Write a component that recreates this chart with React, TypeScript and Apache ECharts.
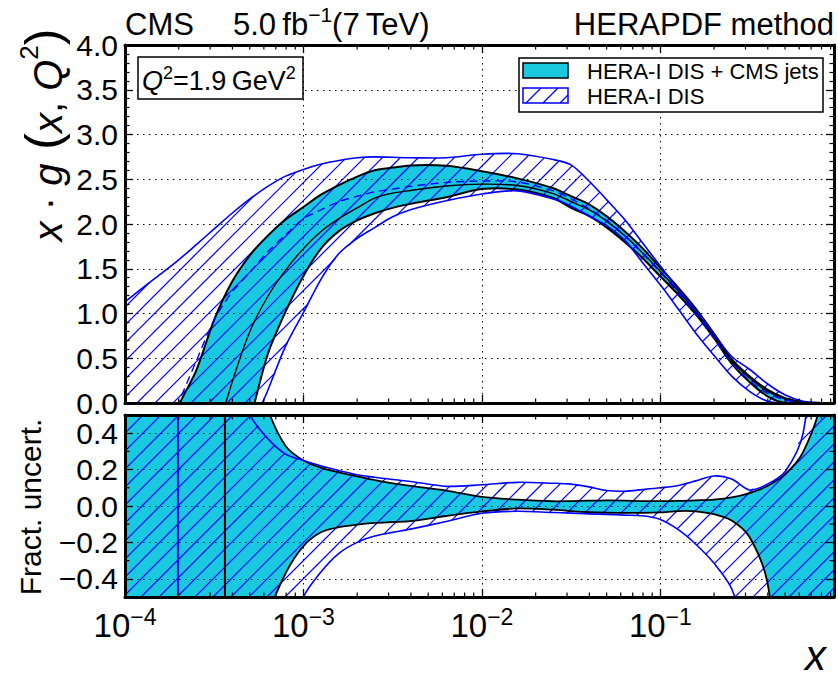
import React, { useEffect, useRef } from 'react';
import * as echarts from 'echarts';

const FONT = 'Liberation Sans, Arial, Helvetica, sans-serif';
const CYAN = '#1ac9e0';
const BLUE = '#0000ff';

// x grid (log-spaced)
const X = [1e-4, 1.26e-4, 1.58e-4, 2e-4, 2.51e-4, 3.16e-4, 3.98e-4, 5.01e-4, 6.31e-4, 7.94e-4, 1e-3, 1.26e-3, 1.58e-3, 2e-3, 2.51e-3, 3.16e-3, 3.98e-3, 6.31e-3, 1e-2, 1.58e-2, 2.51e-2, 3.16e-2, 3.98e-2, 5.01e-2, 6.31e-2, 7.94e-2, 0.1, 0.126, 0.158, 0.2, 0.251, 0.316, 0.398, 0.501, 0.631, 0.794, 0.94];

// top panel: x*g(x,Q2)
const COMB_CENTRAL = [null, null, null, null, null, -0.45, 0.23, 0.8, 1.19, 1.485, 1.725, 1.92, 2.06, 2.18, 2.29, 2.345, 2.375, 2.425, 2.445, 2.43, 2.34, 2.25, 2.16, 2.03, 1.87, 1.68, 1.47, 1.25, 1.02, 0.75, 0.47, 0.28, 0.13, 0.045, 0.008, 0, 0];
const COMB_UPPER = [-1.5, -1.1, -0.6, -0.03, 0.365, 0.93, 1.355, 1.65, 1.87, 2.05, 2.19, 2.33, 2.435, 2.53, 2.6, 2.63, 2.655, 2.65, 2.59, 2.51, 2.4, 2.31, 2.22, 2.085, 1.92, 1.73, 1.51, 1.29, 1.055, 0.775, 0.49, 0.3, 0.15, 0.055, 0.012, 0.001, 0];
const COMB_LOWER = [-3, -3, -3, -2.5, -2, -1.4, -0.9, -0.2, 0.545, 1.02, 1.42, 1.73, 1.92, 2.04, 2.12, 2.18, 2.225, 2.3, 2.39, 2.385, 2.29, 2.18, 2.09, 1.96, 1.8, 1.62, 1.415, 1.21, 0.99, 0.725, 0.44, 0.235, 0.075, 0, 0, 0, 0];
const HERA_CENTRAL = [null, null, -0.45, 0.01, 0.47, 0.93, 1.24, 1.46, 1.69, 1.88, 2.06, 2.16, 2.25, 2.31, 2.36, 2.39, 2.42, 2.465, 2.48, 2.47, 2.37, 2.28, 2.17, 2.04, 1.87, 1.67, 1.46, 1.23, 0.99, 0.72, 0.45, 0.25, 0.11, 0.035, 0.005, 0, 0];
const HERA_UPPER = [1.13, 1.29, 1.44, 1.6, 1.77, 1.945, 2.12, 2.28, 2.42, 2.535, 2.61, 2.67, 2.71, 2.74, 2.75, 2.745, 2.74, 2.74, 2.78, 2.785, 2.72, 2.66, 2.48, 2.27, 2.05, 1.79, 1.53, 1.27, 1.035, 0.77, 0.52, 0.377, 0.215, 0.09, 0.02, 0, 0];
const HERA_LOWER = [-3, -3, -3, -3, -2.5, -2, -1.5, -0.35, 0.14, 0.636, 1.01, 1.39, 1.67, 1.84, 1.96, 2.08, 2.16, 2.26, 2.335, 2.37, 2.28, 2.2, 2.09, 1.98, 1.82, 1.57, 1.32, 1.05, 0.78, 0.53, 0.3, 0.13, 0.02, 0, 0, 0, 0];

// bottom panel: fractional uncertainty
const COMB_FRAC_UP = [1.5, 1.5, 1.5, 1.5, 1.5, 1.5, 1.2, 0.85, 0.53, 0.33, 0.25, 0.21, 0.185, 0.163, 0.142, 0.124, 0.11, 0.085, 0.05, 0.035, 0.026, 0.027, 0.029, 0.031, 0.03, 0.027, 0.027, 0.028, 0.031, 0.035, 0.047, 0.071, 0.11, 0.175, 0.296, 0.58, 1.5];
const COMB_FRAC_LOW = [-1.5, -1.5, -1.5, -1.5, -1.5, -1.5, -1.5, -1.5, -0.62, -0.37, -0.22, -0.143, -0.116, -0.102, -0.093, -0.088, -0.083, -0.055, -0.03, -0.013, -0.02, -0.028, -0.034, -0.037, -0.038, -0.038, -0.035, -0.028, -0.029, -0.045, -0.08, -0.17, -0.42, -1.2, -1.5, -1.5, -1.5];
const HERA_FRAC_UP = [1.5, 1.5, 1.5, 1.5, 1.5, 1.5, 0.75, 0.5, 0.37, 0.285, 0.25, 0.22, 0.195, 0.172, 0.158, 0.146, 0.135, 0.108, 0.117, 0.13, 0.125, 0.12, 0.105, 0.085, 0.081, 0.09, 0.1, 0.113, 0.138, 0.165, 0.148, 0.088, 0.12, 0.19, 0.4, 1.2, 1.5];
const HERA_FRAC_LOW = [-1.5, -1.5, -1.5, -1.5, -1.5, -1.5, -1.5, -1.5, -1.5, -0.8, -0.5, -0.36, -0.26, -0.2, -0.165, -0.145, -0.127, -0.085, -0.04, -0.029, -0.036, -0.039, -0.043, -0.046, -0.05, -0.054, -0.074, -0.13, -0.21, -0.315, -0.455, -0.8, -1.5, -1.5, -1.5, -1.5, -1.5];

// x where central values cross zero (fraction undefined)
const HERA_ZERO_X = [1.98e-4];
const COMB_ZERO_X = [3.63e-4];

const X_MIN = 1e-4;
const X_MAX = 0.94;
const Y_TOP = [0, 4];
const Y_BOT = [-0.5, 0.5];
const MINOR_Y_BOT = [-0.3, -0.1, 0.1, 0.3];

const MINOR_X: number[] = [];
for (let d = -4; d <= -1; d++) for (let k = 2; k <= 9; k++) { const v = k * Math.pow(10, d); if (v < X_MAX) MINOR_X.push(v); }

const SMOOTH = 0.3;
const HATCH_STEP = 18;

// "/" hatch segments inside a pixel polygon (even-odd rule)
function hatchSegs(poly: number[][], step: number) {
  let mn = Infinity, mx = -Infinity;
  for (const p of poly) { const s = p[0] + p[1]; if (s < mn) mn = s; if (s > mx) mx = s; }
  const out: number[][] = [];
  for (let c = Math.ceil(mn / step) * step; c <= mx; c += step) {
    const xs: number[] = [];
    for (let i = 0; i < poly.length; i++) {
      const a = poly[i], b = poly[(i + 1) % poly.length];
      const fa = a[0] + a[1] - c, fb = b[0] + b[1] - c;
      if ((fa < 0) !== (fb < 0)) { const t = fa / (fa - fb); xs.push(a[0] + t * (b[0] - a[0])); }
    }
    xs.sort((p, q) => p - q);
    for (let k = 0; k + 1 < xs.length; k += 2) out.push([xs[k], c - xs[k], xs[k + 1], c - xs[k + 1]]);
  }
  return out;
}

function bandPoints(api: any, up: number[], lo: number[]) {
  const pts: number[][] = [];
  for (let i = 0; i < X.length; i++) pts.push(api.coord([X[i], up[i]]));
  for (let i = X.length - 1; i >= 0; i--) pts.push(api.coord([X[i], lo[i]]));
  return pts;
}

function band(gi: number, up: number[], lo: number[], fill: string, z: number) {
  return {
    type: 'custom', xAxisIndex: gi * 2, yAxisIndex: gi * 2, z, clip: true, silent: true,
    data: [[1e-3, 0]],
    renderItem: (_p: any, api: any) => ({ type: 'polygon', shape: { points: bandPoints(api, up, lo), smooth: SMOOTH }, style: { fill, stroke: 'none' } }),
  };
}

function hatchBand(gi: number, up: number[], lo: number[], z: number) {
  return {
    type: 'custom', xAxisIndex: gi * 2, yAxisIndex: gi * 2, z, clip: true, silent: true,
    data: [[1e-3, 0]],
    renderItem: (_p: any, api: any) => ({
      type: 'group',
      children: hatchSegs(bandPoints(api, up, lo), HATCH_STEP).map((s) => ({
        type: 'line', shape: { x1: s[0], y1: s[1], x2: s[2], y2: s[3] }, style: { stroke: BLUE, lineWidth: 1.2 },
      })),
    }),
  };
}

function curve(gi: number, ys: (number | null)[], color: string, width: number, dash: any, z: number) {
  return {
    type: 'custom', xAxisIndex: gi * 2, yAxisIndex: gi * 2, z, clip: true, silent: true,
    data: [[1e-3, 0]],
    renderItem: (_p: any, api: any) => {
      const pts: number[][] = [];
      for (let i = 0; i < X.length; i++) if (ys[i] !== null) pts.push(api.coord([X[i], ys[i]]));
      return { type: 'polyline', shape: { points: pts, smooth: SMOOTH }, style: { stroke: color, lineWidth: width, fill: 'none', lineDash: dash } };
    },
  };
}

function vline(xs: number[], color: string, z: number) {
  return {
    type: 'custom', xAxisIndex: 2, yAxisIndex: 2, z, clip: true, silent: true,
    data: xs.map((x) => [x, 0]),
    renderItem: (_p: any, api: any) => {
      const a = api.coord([api.value(0), Y_BOT[0]]);
      const b = api.coord([api.value(0), Y_BOT[1]]);
      return { type: 'line', shape: { x1: a[0], y1: a[1], x2: b[0], y2: b[1] }, style: { stroke: color, lineWidth: 2 } };
    },
  };
}

function minorTicks(gi: number, yr: number[]) {
  return {
    type: 'custom', xAxisIndex: gi * 2, yAxisIndex: gi * 2, z: 30, clip: false, silent: true,
    data: MINOR_X.map((x) => [x, yr[0]]),
    renderItem: (_p: any, api: any) => {
      const a = api.coord([api.value(0), yr[0]]);
      const b = api.coord([api.value(0), yr[1]]);
      const s = { stroke: '#000', lineWidth: 1.2 };
      return {
        type: 'group', children: [
          { type: 'line', shape: { x1: a[0], y1: a[1], x2: a[0], y2: a[1] - 4.5 }, style: s },
          { type: 'line', shape: { x1: b[0], y1: b[1], x2: b[0], y2: b[1] + 4.5 }, style: s },
        ],
      };
    },
  };
}

function minorTicksY(ys: number[]) {
  return {
    type: 'custom', xAxisIndex: 2, yAxisIndex: 2, z: 30, clip: false, silent: true,
    data: ys.map((y) => [1e-3, y]),
    renderItem: (_p: any, api: any) => {
      const a = api.coord([X_MIN, api.value(1)]);
      const b = api.coord([X_MAX, api.value(1)]);
      const s = { stroke: '#000', lineWidth: 1.2 };
      return {
        type: 'group', children: [
          { type: 'line', shape: { x1: a[0], y1: a[1], x2: a[0] + 4.5, y2: a[1] }, style: s },
          { type: 'line', shape: { x1: b[0], y1: b[1], x2: b[0] - 4.5, y2: b[1] }, style: s },
        ],
      };
    },
  };
}

const dotted = { show: true, lineStyle: { color: '#000', width: 1, type: [1.5, 4.5] } };
const axLine = { show: true, onZero: false, lineStyle: { color: '#000', width: 3 } };
const tick = { show: true, inside: true, length: 8, lineStyle: { color: '#000', width: 1.3 } };

function xAx(gi: number, pos: string, labels: boolean) {
  return {
    type: 'log', gridIndex: gi, position: pos, min: X_MIN, max: X_MAX, logBase: 10, z: 20,
    axisLine: axLine, axisTick: tick,
    splitLine: pos === 'bottom' ? dotted : { show: false },
    axisLabel: labels ? {
      show: true, margin: 8,
      formatter: (v: number) => {
        const l = Math.log10(v); const e = Math.round(l);
        if (Math.abs(l - e) > 1e-3) return '';
        return '{b|10}{s|\u2212' + (-e) + '}';
      },
      rich: {
        b: { fontSize: 33, fontFamily: FONT, color: '#000', lineHeight: 40 },
        s: { fontSize: 23, fontFamily: FONT, color: '#000', lineHeight: 20, verticalAlign: 'top' },
      },
    } : { show: false },
  };
}

function yAx(gi: number, pos: string, labels: boolean, range: number[], extra: any, minorSplit: number) {
  return {
    type: 'value', gridIndex: gi, position: pos, min: range[0], max: range[1], z: 20,
    ...extra,
    axisLine: axLine, axisTick: tick,
    minorTick: { show: minorSplit > 0, splitNumber: minorSplit || 1, length: 4.5, lineStyle: { color: '#000', width: 1.2 } },
    splitLine: pos === 'left' ? dotted : { show: false },
    axisLabel: labels ? {
      show: true, margin: 7, fontSize: 30, fontFamily: FONT, color: '#000',
      formatter: (v: number) => (Math.abs(v) > 0.45 && range[0] < 0 ? '' : (v < 0 ? '\u2212' : '') + Math.abs(v).toFixed(1)),
    } : { show: false },
  };
}

const LEG_HATCH = hatchSegs([[523, 88], [568, 88], [568, 103], [523, 103]], 17);

export default function App() {
  const ref = useRef<HTMLDivElement>(null);
  useEffect(() => {
    const el = ref.current!;
    const chart = echarts.init(el, undefined, { renderer: 'svg' });

    const option: any = {
      animation: false,
      backgroundColor: '#fff',
      textStyle: { fontFamily: FONT },
      grid: [
        { left: 125, top: 45, width: 709, height: 358 },
        { left: 125, top: 415, width: 709, height: 182 },
      ],
      xAxis: [xAx(0, 'bottom', false), xAx(0, 'top', false), xAx(1, 'bottom', true), xAx(1, 'top', false)],
      yAxis: [
        yAx(0, 'left', true, Y_TOP, { interval: 0.5 }, 5),
        yAx(0, 'right', false, Y_TOP, { interval: 0.5 }, 5),
        yAx(1, 'left', true, Y_BOT, { splitNumber: 5 }, 0),
        yAx(1, 'right', false, Y_BOT, { splitNumber: 5 }, 0),
      ],
      series: [
        band(0, COMB_UPPER, COMB_LOWER, CYAN, 2),
        hatchBand(0, HERA_UPPER, HERA_LOWER, 3),
        curve(0, COMB_UPPER, '#000', 2, null, 4),
        curve(0, COMB_LOWER, '#000', 2, null, 4),
        curve(0, COMB_CENTRAL, '#000', 1.4, null, 4),
        curve(0, HERA_UPPER, BLUE, 1.6, null, 5),
        curve(0, HERA_LOWER, BLUE, 1.6, null, 5),
        curve(0, HERA_CENTRAL, BLUE, 1.4, [8, 5], 5),
        band(1, COMB_FRAC_UP, COMB_FRAC_LOW, CYAN, 2),
        hatchBand(1, HERA_FRAC_UP, HERA_FRAC_LOW, 3),
        curve(1, COMB_FRAC_UP, '#000', 1.8, null, 4),
        curve(1, COMB_FRAC_LOW, '#000', 1.8, null, 4),
        curve(1, HERA_FRAC_UP, BLUE, 1.6, null, 5),
        curve(1, HERA_FRAC_LOW, BLUE, 1.6, null, 5),
        vline(HERA_ZERO_X, BLUE, 6),
        vline(COMB_ZERO_X, '#000', 6),
        minorTicks(0, Y_TOP),
        minorTicks(1, Y_BOT),
        minorTicksY(MINOR_Y_BOT),
      ],
      graphic: [
        { type: 'text', x: 125, y: 40, z: 50, style: { text: 'CMS', font: '31px ' + FONT, fill: '#000', textVerticalAlign: 'bottom' } },
        {
          type: 'text', x: 233, y: 40, z: 50,
          style: {
            text: '{a|5.0\u2009fb}{s|\u22121}{a|(7\u2009TeV)}', textVerticalAlign: 'bottom',
            rich: {
              a: { fontSize: 31, fontFamily: FONT, fill: '#000', lineHeight: 36, verticalAlign: 'bottom' },
              s: { fontSize: 21, fontFamily: FONT, fill: '#000', lineHeight: 22, verticalAlign: 'top' },
            },
          },
        },
        { type: 'text', x: 834, y: 40, z: 50, style: { text: 'HERAPDF method', font: '31px ' + FONT, fill: '#000', textAlign: 'right', textVerticalAlign: 'bottom' } },
        { type: 'rect', z: 40, shape: { x: 138, y: 57, width: 165, height: 42 }, style: { fill: '#fff', stroke: '#000', lineWidth: 1.5 } },
        {
          type: 'text', x: 142, y: 79, z: 50,
          style: {
            text: '{i|Q}{s|2}{n|=1.9\u2009GeV}{s|2}', textVerticalAlign: 'middle',
            rich: {
              i: { fontSize: 27, fontFamily: FONT, fontStyle: 'italic', fill: '#000', lineHeight: 30, verticalAlign: 'bottom' },
              n: { fontSize: 27, fontFamily: FONT, fill: '#000', lineHeight: 30, verticalAlign: 'bottom' },
              s: { fontSize: 18, fontFamily: FONT, fill: '#000', lineHeight: 18, verticalAlign: 'top' },
            },
          },
        },
        { type: 'rect', z: 40, shape: { x: 519, y: 58, width: 304, height: 54 }, style: { fill: '#fff', stroke: '#000', lineWidth: 1.5 } },
        { type: 'rect', z: 45, shape: { x: 523, y: 63, width: 45, height: 15 }, style: { fill: CYAN, stroke: '#000', lineWidth: 1.5 } },
        ...LEG_HATCH.map((s) => ({ type: 'line', z: 46, shape: { x1: s[0], y1: s[1], x2: s[2], y2: s[3] }, style: { stroke: BLUE, lineWidth: 1.2 } })),
        { type: 'rect', z: 47, shape: { x: 523, y: 88, width: 45, height: 15 }, style: { fill: 'none', stroke: BLUE, lineWidth: 1.5 } },
        { type: 'text', x: 587, y: 71, z: 50, style: { text: 'HERA-I DIS + CMS jets', font: '22px ' + FONT, fill: '#000', textVerticalAlign: 'middle' } },
        { type: 'text', x: 587, y: 96, z: 50, style: { text: 'HERA-I DIS', font: '22px ' + FONT, fill: '#000', textVerticalAlign: 'middle' } },
        {
          type: 'text', x: 42, y: 135, z: 50, rotation: Math.PI / 2,
          style: {
            text: '{i|x}{n| \u00b7 }{i|g}{p| (}{i|x}{n|, }{i|Q}{s|2}{p|)}', textAlign: 'center', textVerticalAlign: 'middle',
            rich: {
              i: { fontSize: 40, fontFamily: FONT, fontStyle: 'italic', fill: '#000', lineHeight: 46, verticalAlign: 'bottom' },
              n: { fontSize: 40, fontFamily: FONT, fill: '#000', lineHeight: 46, verticalAlign: 'bottom' },
              p: { fontSize: 50, fontFamily: FONT, fill: '#000', lineHeight: 52, verticalAlign: 'bottom' },
              s: { fontSize: 26, fontFamily: FONT, fill: '#000', lineHeight: 26, verticalAlign: 'top' },
            },
          },
        },
        { type: 'text', x: 30, y: 507, z: 50, rotation: Math.PI / 2, style: { text: 'Fract. uncert.', font: '30px ' + FONT, fill: '#000', textAlign: 'center', textVerticalAlign: 'middle' } },
        { type: 'text', x: 826, y: 655, z: 50, style: { text: 'x', font: 'italic 42px ' + FONT, lineHeight: 32, fill: '#000', textAlign: 'right', textVerticalAlign: 'middle' } },
      ],
    };
    chart.setOption(option);
    return () => chart.dispose();
  }, []);
  return <div ref={ref} style={{ position: 'fixed', left: 0, top: 0, width: 838, height: 678, background: '#fff' }} />;
}
